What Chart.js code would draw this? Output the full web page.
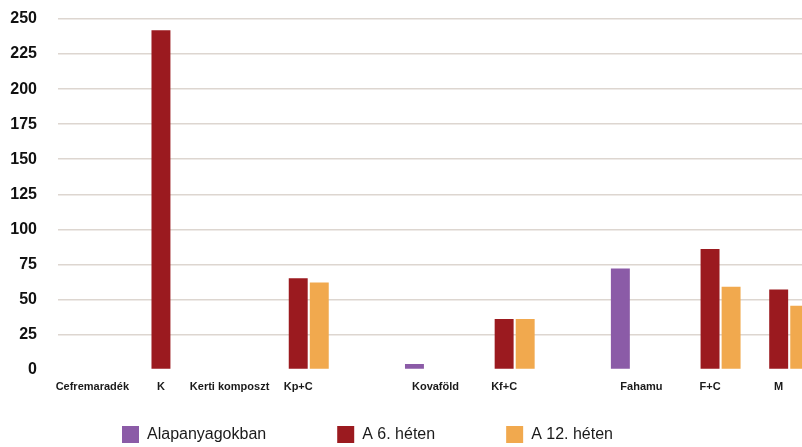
<!DOCTYPE html>
<html>
<head>
<meta charset="utf-8">
<script src="https://cdn.jsdelivr.net/npm/chart.js@4/dist/chart.umd.min.js"></script>
<style>
  html, body { margin: 0; padding: 0; overflow: hidden; background: #ffffff; }
  #wrap { position: relative; width: 813px; height: 447px; }
</style>
</head>
<body>
<div id="wrap"><canvas id="chart" width="813" height="447"></canvas></div>
<script>
// Categories (blank entries keep the spacing between the sample groups)
const categories = ['Cefremaradék', 'K', 'Kerti komposzt', 'Kp+C', '', 'Kovaföld', 'Kf+C', '', 'Fahamu', 'F+C', 'M'];

// Series names
const seriesNames = ['Alapanyagokban', 'A 6. héten', 'A 12. héten'];

// Series values
const rawMaterials = [0, null, 0, null, null, 4, null, null, 72, null, null];
const week6        = [null, 242, null, 65, null, null, 36, null, null, 86, 57];
const week12       = [null, null, null, 62, null, null, 36, null, null, 59, 45.5];

// Value axis ticks
const yTicks = [0, 25, 50, 75, 100, 125, 150, 175, 200, 225, 250];

const seriesColors = ['#8b5ba7', '#9b1a1f', '#f1a94e'];

Chart.defaults.font.family = '"Liberation Sans", Arial, Helvetica, sans-serif';
Chart.defaults.color = '#1a1a1a';

// Places the legend row under the axis labels
const legendPlacement = {
  id: 'legendPlacement',
  afterLayout(chart) {
    const lg = chart.legend;
    const pad = lg.options.labels.padding;
    lg.left = 122 - pad;
    lg.top = 426 - pad;
  }
};

const series = [rawMaterials, week6, week12];

new Chart(document.getElementById('chart'), {
  type: 'bar',
  data: {
    labels: categories,
    datasets: series.map((values, i) => ({
      label: seriesNames[i],
      data: values,
      backgroundColor: seriesColors[i],
      borderWidth: 0,
      categoryPercentage: 0.92,
      barPercentage: 0.9
    }))
  },
  options: {
    responsive: false,
    devicePixelRatio: 1,
    animation: false,
    layout: { padding: { top: 19, left: 0, right: 0, bottom: 0 } },
    plugins: {
      tooltip: { enabled: false },
      legend: {
        position: 'bottom',
        align: 'start',
        maxHeight: 50,
        labels: {
          boxWidth: 17,
          boxHeight: 17,
          padding: 71,
          color: '#1a1a1a',
          font: { size: 16 }
        }
      }
    },
    scales: {
      x: {
        grid: { display: false, drawTicks: false },
        border: { display: false },
        ticks: {
          autoSkip: false,
          minRotation: 0,
          maxRotation: 0,
          padding: 11,
          color: '#1a1a1a',
          font: { size: 11, weight: 'bold' }
        },
        afterFit(scale) { scale.height = 27.5; }
      },
      y: {
        min: 0,
        max: 250,
        border: { display: false },
        grid: {
          drawTicks: true,
          tickLength: 18,
          tickColor: 'rgba(0,0,0,0)',
          lineWidth: 1.5,
          color: ctx => (ctx.tick && ctx.tick.value === 0) ? 'rgba(0,0,0,0)' : '#ddd6d0'
        },
        afterBuildTicks(axis) { axis.ticks = yTicks.map(v => ({ value: v })); },
        ticks: {
          padding: 3,
          color: '#111111',
          font: { size: 16, weight: 'bold' }
        },
        afterFit(scale) { scale.width = 58; }
      }
    }
  },
  plugins: [legendPlacement]
});
</script>
</body>
</html>
